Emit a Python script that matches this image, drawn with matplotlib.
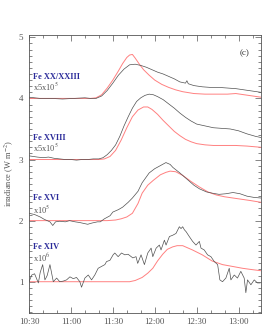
import matplotlib
matplotlib.use("Agg")
import matplotlib.pyplot as plt
from matplotlib.ticker import MultipleLocator

# time in minutes after 10:30 UT
tick_pos = [0, 30, 60, 90, 120, 150]
tick_labels = ["10:30", "11:00", "11:30", "12:00", "12:30", "13:00"]

# Fe XX/XXIII (offset 4)
t_xx_obs = [0, 4, 8, 16, 24, 32, 40, 44, 48, 52, 56, 60, 64, 68, 72, 76, 80, 84, 88, 92, 96,
            100, 104, 108, 112, 113, 114, 118, 124, 130, 136, 142, 148, 154, 160, 166]
xx_obs = [4.02, 4.01, 4.00, 4.00, 3.99, 4.00, 4.01, 4.00, 4.00, 4.04, 4.13, 4.25, 4.38, 4.48,
          4.55, 4.56, 4.54, 4.51, 4.47, 4.43, 4.40, 4.36, 4.32, 4.27, 4.25, 4.29, 4.24, 4.21,
          4.19, 4.18, 4.18, 4.17, 4.16, 4.14, 4.12, 4.10]
t_xx_mod = [0, 44, 48, 52, 56, 60, 64, 67, 70, 72, 74, 76, 79, 82, 86, 90, 95, 100, 105, 110,
            118, 126, 134, 142, 148, 154, 160, 166]
xx_mod = [4.00, 4.00, 4.01, 4.06, 4.17, 4.30, 4.45, 4.57, 4.67, 4.71, 4.72, 4.66, 4.56, 4.47,
          4.38, 4.30, 4.23, 4.18, 4.14, 4.11, 4.08, 4.07, 4.07, 4.07, 4.08, 4.06, 4.04, 4.02]

# Fe XVIII (offset 3)
t_xviii_obs = [0, 3, 6, 10, 14, 18, 22, 26, 30, 34, 38, 42, 46, 50, 53, 56, 59, 62, 65, 68,
               71, 74, 77, 80, 83, 86, 89, 92, 96, 100, 104, 108, 112, 116, 120, 126, 132,
               138, 144, 150, 156, 162, 166]
xviii_obs = [3.06, 3.05, 3.04, 3.03, 3.04, 3.02, 3.01, 3.00, 3.00, 2.99, 3.00, 3.00, 3.01,
             3.01, 3.03, 3.08, 3.15, 3.24, 3.38, 3.55, 3.70, 3.84, 3.95, 4.01, 4.05, 4.07,
             4.06, 4.03, 3.98, 3.91, 3.84, 3.76, 3.69, 3.63, 3.58, 3.55, 3.52, 3.51, 3.50,
             3.47, 3.42, 3.38, 3.36]
t_xviii_mod = [0, 50, 54, 58, 62, 66, 70, 74, 78, 82, 85, 88, 92, 96, 100, 104, 108, 112,
               116, 120, 126, 132, 140, 148, 156, 166]
xviii_mod = [3.00, 3.00, 3.01, 3.05, 3.15, 3.32, 3.52, 3.70, 3.81, 3.86, 3.86, 3.82, 3.74,
             3.64, 3.55, 3.46, 3.39, 3.33, 3.29, 3.26, 3.24, 3.23, 3.23, 3.23, 3.22, 3.20]

# Fe XVI (offset 2)
t_xvi_obs = [0, 4, 8, 11, 15, 17, 19, 22, 26, 29, 33, 36, 40, 42, 45, 49, 51, 54, 58, 60, 64,
             67, 71, 74, 78, 81, 86, 90, 94, 98, 101, 103, 108, 113, 118, 122, 127, 131, 136,
             141, 146, 151, 156, 161, 166]
xvi_obs = [2.12, 2.10, 2.06, 2.02, 1.98, 1.92, 1.98, 1.99, 1.98, 2.00, 1.98, 1.97, 1.95, 1.94,
           1.96, 1.98, 1.98, 2.03, 2.08, 2.14, 2.18, 2.22, 2.30, 2.37, 2.48, 2.62, 2.78, 2.85,
           2.90, 2.95, 2.92, 2.87, 2.78, 2.68, 2.58, 2.52, 2.47, 2.45, 2.43, 2.44, 2.46, 2.44,
           2.40, 2.38, 2.37]
t_xvi_mod = [0, 56, 62, 66, 70, 74, 78, 81, 85, 89, 94, 98, 101, 105, 110, 116, 122, 128,
             134, 140, 146, 152, 158, 166]
xvi_mod = [2.00, 2.00, 2.01, 2.03, 2.06, 2.12, 2.28, 2.45, 2.58, 2.66, 2.75, 2.79, 2.81, 2.80,
           2.74, 2.64, 2.55, 2.47, 2.42, 2.39, 2.37, 2.35, 2.33, 2.30]

# Fe XIV (offset 1)
t_xiv_obs = [0, 2, 4, 6.7, 8, 9.8, 11.4, 13, 15, 17.4, 19.8, 22, 24.5, 26.9, 29.3, 31.7, 34,
             36.4, 37.6, 40, 42.4, 44.8, 47.1, 49.5, 51.9, 54.3, 55.5, 57.9, 60.2, 61.4, 63.8,
             66.2, 68.6, 70.9, 74.3, 76.6, 77.8, 80.2, 82.6, 85, 87.4, 88.6, 91, 93.3, 94.5,
             96.9, 98.1, 100.5, 102.8, 105.2, 107.6, 108.8, 110, 111.2, 112.4, 114.7, 117.1,
             119.5, 121.9, 123.1, 125.4, 127.8, 130.2, 132.6, 135, 136.6, 138.5, 140.9, 143.3,
             144.5, 146.9, 149.2, 151.6, 154, 155.2, 156.4, 158.8, 161.2, 163.5, 165.4]
xiv_obs = [1.00, 1.11, 1.13, 0.98, 1.15, 1.28, 1.03, 1.10, 1.28, 1.00, 1.06, 1.00, 1.01, 1.03,
           1.08, 1.05, 1.07, 1.00, 0.91, 1.06, 1.11, 1.03, 1.11, 1.22, 1.25, 1.28, 1.33, 1.35,
           1.44, 1.47, 1.41, 1.47, 1.44, 1.45, 1.39, 1.41, 1.30, 1.44, 1.28, 1.47, 1.55, 1.41,
           1.55, 1.60, 1.52, 1.68, 1.60, 1.74, 1.76, 1.79, 1.90, 1.87, 1.90, 1.85, 1.82, 1.74,
           1.66, 1.60, 1.66, 1.55, 1.52, 1.44, 1.41, 1.33, 1.28, 1.03, 1.00, 1.06, 1.22, 1.03,
           1.11, 1.06, 1.17, 1.06, 0.82, 1.03, 0.95, 1.03, 0.98, 0.98]
t_xiv_mod = [0, 72, 76, 81, 85, 88.6, 92, 95.7, 99, 102.8, 106, 110, 113, 117, 124, 131,
             138.5, 145.7, 152.8, 159, 166]
xiv_mod = [1.00, 1.00, 1.02, 1.07, 1.14, 1.22, 1.34, 1.45, 1.53, 1.57, 1.59, 1.59, 1.56,
           1.52, 1.44, 1.34, 1.28, 1.25, 1.22, 1.20, 1.18]

obs_series = [(t_xx_obs, xx_obs), (t_xviii_obs, xviii_obs), (t_xvi_obs, xvi_obs),
              (t_xiv_obs, xiv_obs)]
mod_series = [(t_xx_mod, xx_mod), (t_xviii_mod, xviii_mod), (t_xvi_mod, xvi_mod),
              (t_xiv_mod, xiv_mod)]

ion_names = ["Fe XX/XXIII", "Fe XVIII", "Fe XVI", "Fe XIV"]
scale_labels = [r"x5x10$^5$", r"x5x10$^5$", r"x10$^5$", r"x10$^6$"]
name_y = [4.35, 3.36, 2.37, 1.57]
scale_y = [4.19, 3.19, 2.17, 1.39]

grey = "#555555"
plt.rcParams["font.family"] = ["Liberation Serif", "DejaVu Serif"]
plt.rcParams["mathtext.fontset"] = "stix"

fig = plt.figure(figsize=(2.66, 3.29), dpi=100)
ax = fig.add_axes([0.109, 0.049, 0.872, 0.845])

for t, v in mod_series:
    ax.plot(t, v, color="#ff8080", lw=0.7)
for t, v in obs_series:
    ax.plot(t, v, color="#505050", lw=0.5)

for name, sc, ny, sy in zip(ion_names, scale_labels, name_y, scale_y):
    ax.text(3, ny, name, color="#2b2b9a", fontsize=6, fontweight="bold", va="center")
    ax.text(3, sy, sc, color=grey, fontsize=6, va="center")

ax.text(0.95, 0.95, "(c)", transform=ax.transAxes, fontsize=6.5, color="#333333",
        ha="right", va="top")

ax.set_xlim(0, 166)
ax.set_ylim(0.49, 5.04)
ax.set_xticks(tick_pos)
ax.set_xticklabels(tick_labels)
ax.set_yticks([1, 2, 3, 4, 5])
ax.xaxis.set_minor_locator(MultipleLocator(10))
ax.yaxis.set_minor_locator(MultipleLocator(0.1))
ax.tick_params(which="both", direction="in", top=True, right=True, colors=grey,
               labelsize=6.5, width=0.5)
ax.tick_params(which="major", length=4, pad=4)
ax.tick_params(which="minor", length=2)
for s in ax.spines.values():
    s.set_color(grey)
    s.set_linewidth(0.6)

ax.set_ylabel(r"irradiance (W m$^{-2}$)", fontsize=6, color=grey)
ax.yaxis.set_label_coords(-0.055, 0.5)

fig.savefig("out.png", dpi=100)
